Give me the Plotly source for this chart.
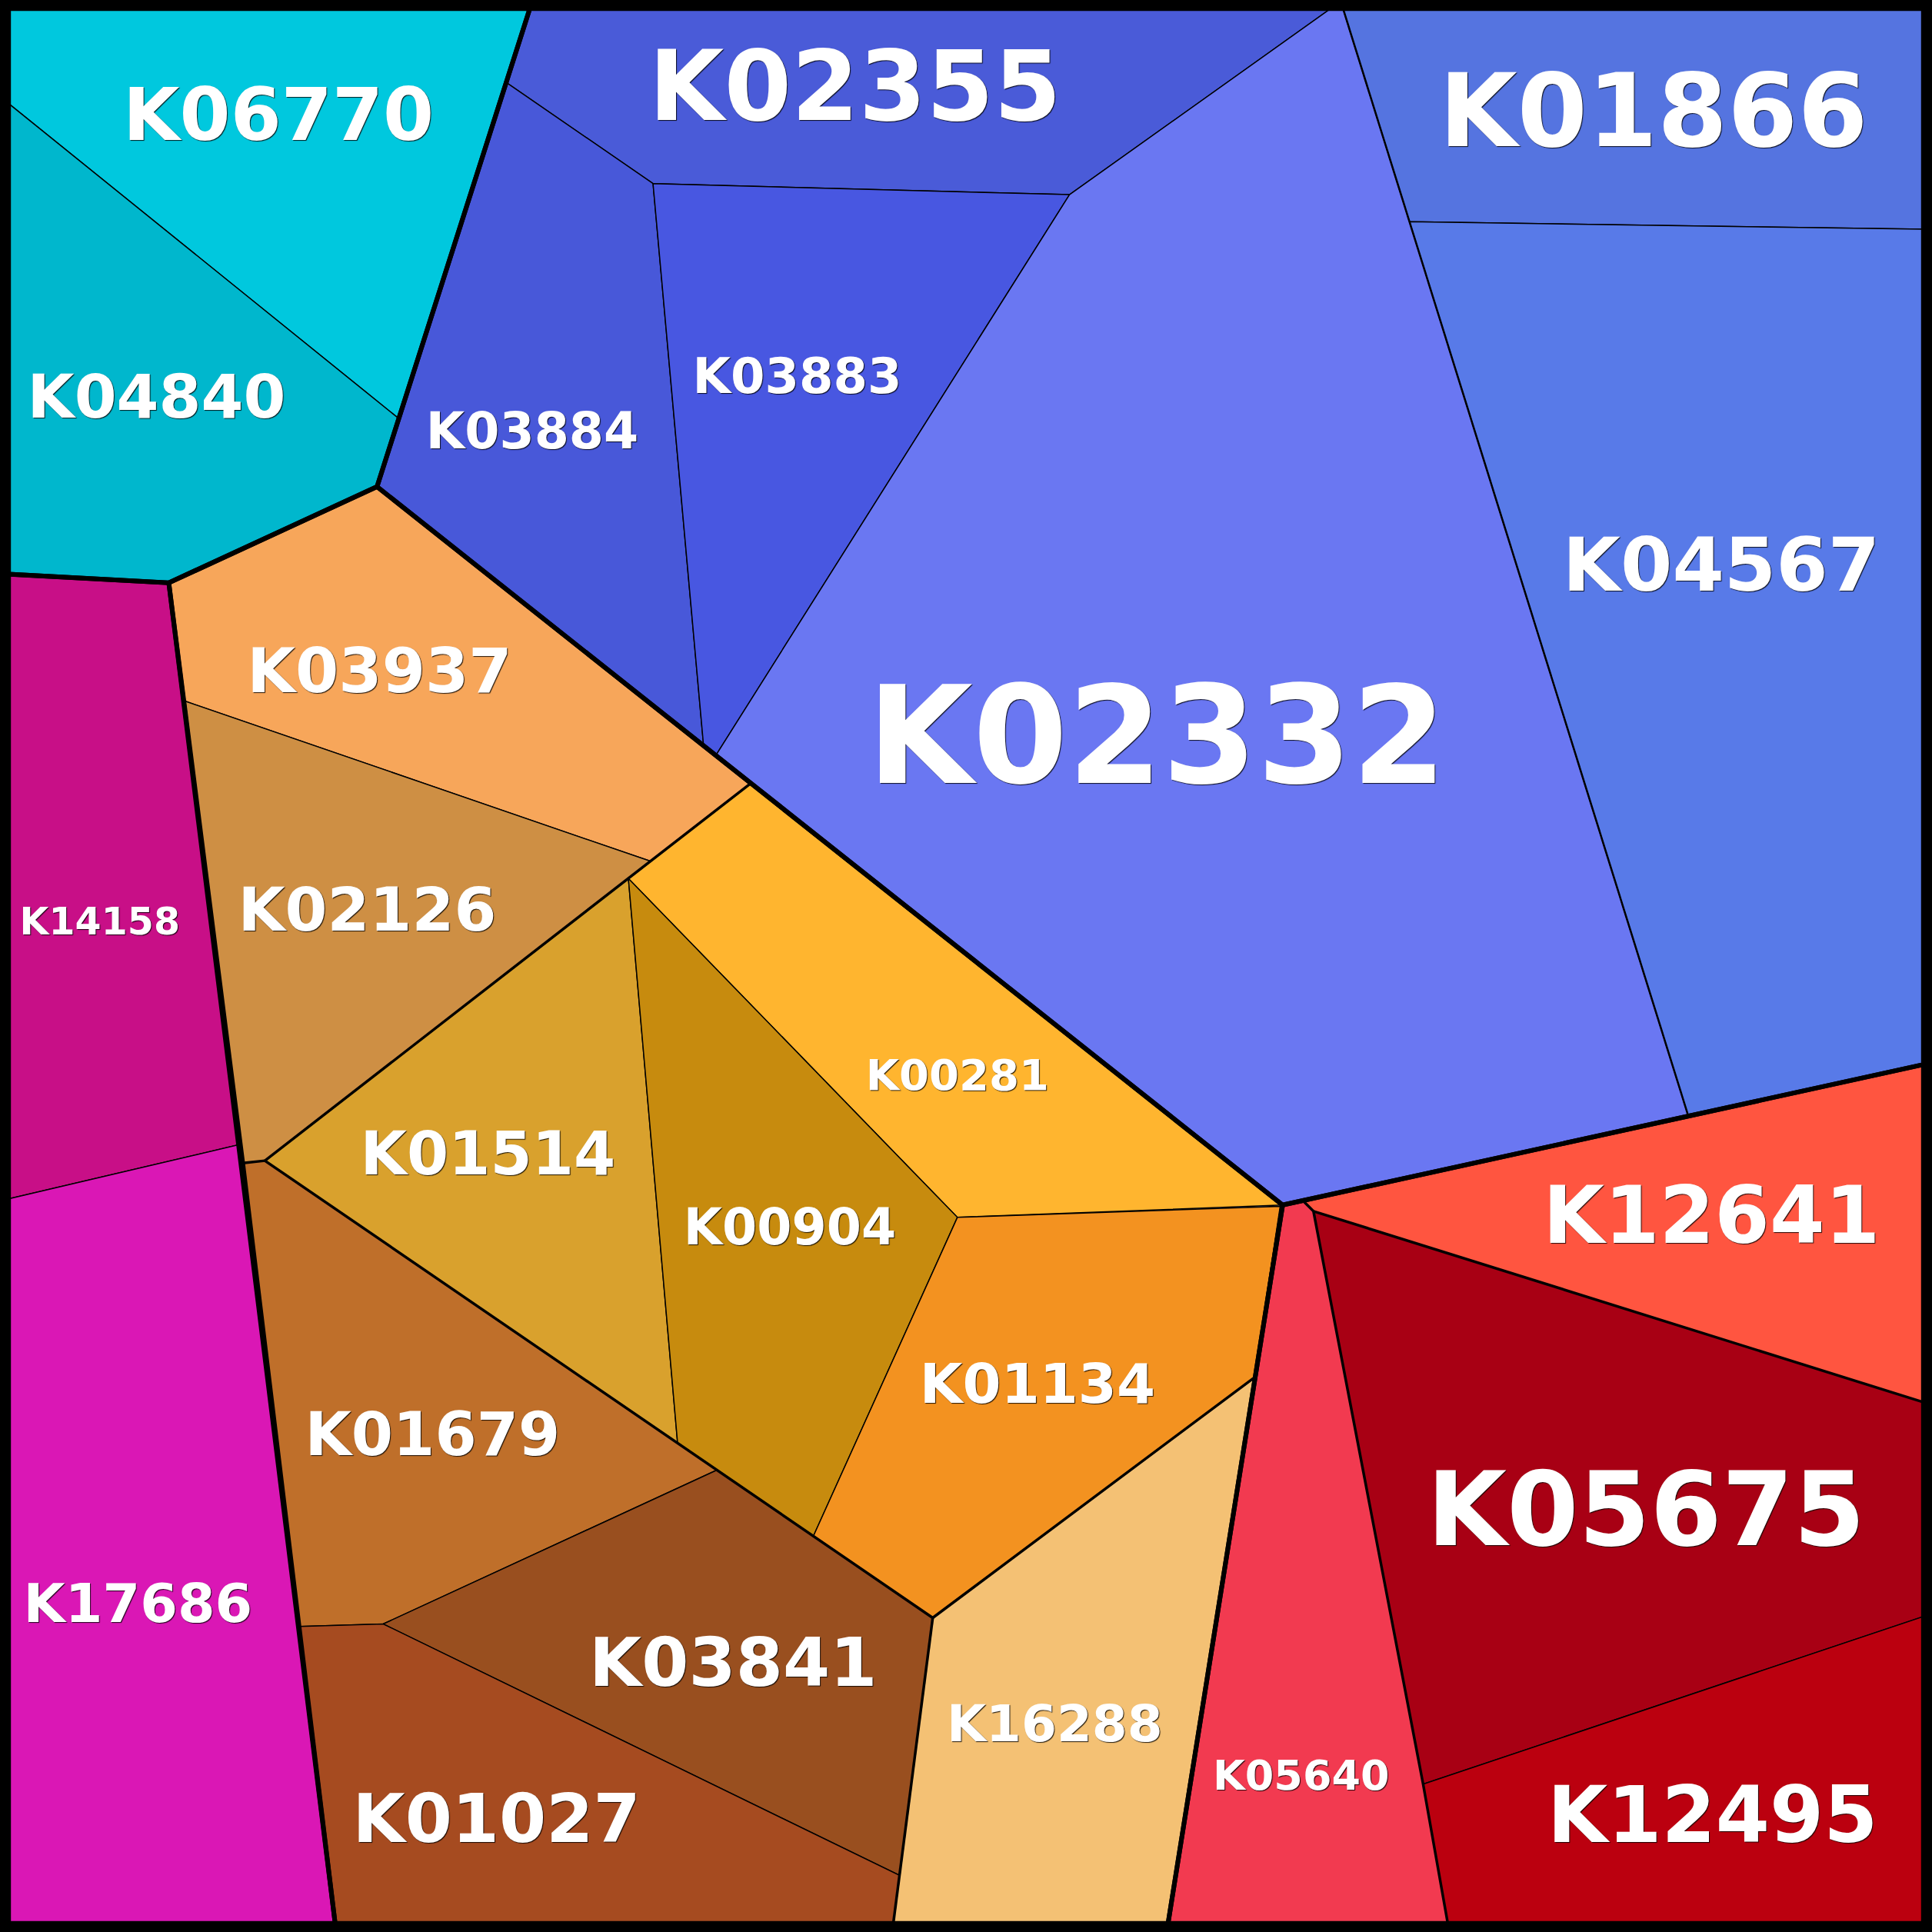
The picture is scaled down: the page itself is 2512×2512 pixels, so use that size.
import plotly.graph_objects as go

# ---------------- data ----------------
labels = ["K06770", "K04840", "K02355", "K03884", "K03883", "K02332", "K01866", "K04567",
          "K03937", "K02126", "K00281", "K01514", "K00904", "K01134", "K01679", "K03841",
          "K01027", "K16288", "K14158", "K17686", "K12641", "K05675", "K12495", "K05640"]

colors = ["#00C8DE", "#00B7CD", "#4A5BD8", "#4858D9", "#4857E1", "#6A77F2", "#5574E0", "#587AE8",
          "#F7A65A", "#CE8F44", "#FFB52F", "#D9A12D", "#C78B0E", "#F39220", "#BF6F2A", "#994F1F",
          "#A64B20", "#F4C174", "#C80F87", "#DA17B5", "#FF5540", "#A80014", "#BB000F", "#F23A50"]

# Voronoi cell vertices (in a 0..1568 frame, y downward)
cells_x = [
    [7, 430, 324, 7],
    [7, 324, 306, 137, 7],
    [430, 1080, 868, 530, 411],
    [411, 530, 571, 306],
    [530, 868, 581, 571],
    [868, 1080, 1090, 1144, 1370, 1041, 581],
    [1090, 1561, 1561, 1144],
    [1144, 1561, 1561, 1370],
    [137, 306, 609, 528, 150],
    [150, 528, 510, 215, 197],
    [528, 609, 1041, 777, 510],
    [510, 550, 215],
    [510, 777, 660, 550],
    [777, 1039, 1018, 757, 660],
    [197, 215, 582, 311, 243],
    [582, 757, 730, 311],
    [243, 311, 730, 725, 272],
    [757, 1018, 948, 725, 730],
    [7, 137, 194, 7],
    [7, 194, 197, 272, 7],
    [1058, 1561, 1561, 1066],
    [1066, 1561, 1561, 1155],
    [1155, 1561, 1561, 1175],
    [1041, 1058, 1066, 1155, 1175, 948],
]
cells_y = [
    [7, 7, 340, 84],
    [84, 340, 395, 473, 466],
    [7, 7, 158, 149, 67],
    [67, 149, 605, 395],
    [149, 158, 613, 605],
    [158, 7, 7, 180, 905, 978, 613],
    [7, 7, 186, 180],
    [180, 186, 864, 905],
    [473, 395, 636, 699, 569],
    [569, 699, 713, 942, 944],
    [699, 636, 978, 988, 713],
    [713, 1172, 942],
    [713, 988, 1247, 1172],
    [988, 979, 1118, 1313, 1247],
    [944, 942, 1193, 1318, 1320],
    [1193, 1313, 1522, 1318],
    [1320, 1318, 1522, 1561, 1561],
    [1313, 1118, 1561, 1561, 1522],
    [466, 473, 929, 973],
    [973, 929, 944, 1561, 1561],
    [975, 864, 1138, 983],
    [983, 1138, 1312, 1448],
    [1448, 1312, 1561, 1561],
    [978, 975, 983, 1448, 1561, 1561],
]

# top-level group outlines
groups_x = [
    [7, 430, 306, 137, 7],
    [430, 1561, 1561, 1041, 306],
    [137, 306, 1041, 948, 272, 197],
    [7, 137, 272, 7],
    [1041, 1561, 1561, 948],
]
groups_y = [
    [7, 7, 395, 473, 466],
    [7, 7, 864, 978, 395],
    [473, 395, 978, 1561, 1561, 944],
    [466, 473, 1561, 1561],
    [978, 864, 1561, 1561],
]

# second-level group borders
sub_x = [
    [609, 215, 757, 1018],
    [757, 730, 725],
    [215, 197],
    [1058, 1066, 1155, 1175],
    [1066, 1561],
    [1090, 1144, 1370],
]
sub_y = [
    [636, 942, 1313, 1118],
    [1313, 1522, 1561],
    [942, 944],
    [975, 983, 1448, 1561],
    [983, 1138],
    [7, 180, 905],
]
sub_w = [3.5, 3.5, 3.5, 3.5, 3.5, 2.5]

# label anchor points (visual centre of the capitals) and font sizes
label_x = [226, 127, 694, 432, 647, 939, 1342, 1397, 308, 298, 777, 396, 641, 842, 351, 595,
           403, 856, 81, 112, 1389, 1336, 1390, 1056]
label_y = [93, 322, 70, 350, 305, 597, 90, 458, 544, 738, 872, 936, 996, 1123, 1164, 1349,
           1476, 1399, 748, 1301, 986, 1225, 1473, 1441]
label_size = [95, 79, 126, 65, 64, 177, 131, 97, 81, 79, 56, 78, 65, 72, 78, 88,
              88, 66, 49, 70, 103, 134, 101, 54]

# ---------------- figure ----------------
fig = go.Figure()

for name, col, xs, ys in zip(labels, colors, cells_x, cells_y):
    fig.add_trace(go.Scatter(
        x=xs + [xs[0]], y=ys + [ys[0]], mode="lines", fill="toself",
        fillcolor=col, line=dict(color="black", width=1.5),
        hoverinfo="skip", showlegend=False, name=name))

for xs, ys, w in zip(sub_x, sub_y, sub_w):
    fig.add_trace(go.Scatter(
        x=xs, y=ys, mode="lines", line=dict(color="black", width=w),
        hoverinfo="skip", showlegend=False))

for xs, ys in zip(groups_x, groups_y):
    fig.add_trace(go.Scatter(
        x=xs + [xs[0]], y=ys + [ys[0]], mode="lines",
        line=dict(color="black", width=6),
        hoverinfo="skip", showlegend=False))

# plotly centres the text box, not the capitals: nudge down by ~0.1 em
text_y = [y + 0.062 * s for y, s in zip(label_y, label_size)]

fig.add_trace(go.Scatter(
    x=label_x, y=text_y, mode="text", text=labels,
    textposition="middle center",
    textfont=dict(family="DejaVu Sans", size=label_size, color="white",
                  weight="bold", shadow="1px 1px 1px rgba(0,0,0,0.85)"),
    hoverinfo="skip", showlegend=False))

fig.add_shape(type="rect", xref="paper", yref="paper", x0=0, y0=0, x1=1, y1=1,
              line=dict(color="black", width=24), fillcolor="rgba(0,0,0,0)", layer="above")

fig.update_layout(
    width=2512, height=2512,
    margin=dict(l=0, r=0, t=0, b=0),
    paper_bgcolor="white", plot_bgcolor="white",
    xaxis=dict(range=[0, 1568], visible=False, fixedrange=True),
    yaxis=dict(range=[1568, 0], visible=False, fixedrange=True),
)

fig.write_html("out.html", config={"displayModeBar": False},
               post_script="document.body.style.margin='0';document.body.style.overflow='hidden';")
